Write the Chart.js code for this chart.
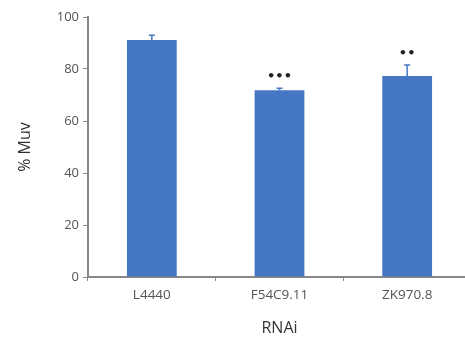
<!DOCTYPE html>
<html>
<head>
<meta charset="utf-8">
<script src="https://cdn.jsdelivr.net/npm/chart.js@4"></script>
<style>
  html, body { margin: 0; padding: 0; background: #fff; overflow: hidden; }
  canvas { display: block; }
</style>
</head>
<body>
<canvas id="myChart" width="471" height="342"></canvas>
<script>
// données
const categories = ['L4440', 'F54C9.11', 'ZK970.8'];
const muvValues = [91.2, 71.8, 77.3];
const muvErrors = [1.8, 0.8, 4.2];
const starLabels = ['', '***', '**'];
const yTicks = [0, 20, 40, 60, 80, 100];

// barres d'erreur + étoiles dessinées via les échelles du graphique
const errorBarPlugin = {
    id: 'errorBars',
    afterDatasetsDraw(chart) {
        const ctx = chart.ctx;
        const meta = chart.getDatasetMeta(0);
        const y = chart.scales.y;
        ctx.save();
        meta.data.forEach((bar, i) => {
            const top = y.getPixelForValue(muvValues[i] + muvErrors[i]);
            const base = y.getPixelForValue(muvValues[i]);
            ctx.strokeStyle = '#4677c5';
            ctx.lineWidth = 1.5;
            ctx.beginPath();
            ctx.moveTo(bar.x, base);
            ctx.lineTo(bar.x, top);
            ctx.moveTo(bar.x - 3, top);
            ctx.lineTo(bar.x + 3, top);
            ctx.stroke();
            if (starLabels[i]) {
                ctx.fillStyle = '#222';
                ctx.font = 'bold 13px "DejaVu Sans"';
                ctx.textAlign = 'center';
                ctx.textBaseline = 'bottom';
                ctx.fillText(starLabels[i].replace(/\*/g, '\u2022'), bar.x, top - 5);
            }
        });
        ctx.restore();
    }
};

const ctx = document.getElementById('myChart').getContext('2d');
const myChart = new Chart(ctx, {
    type: 'bar',
    data: {
        labels: categories,
        datasets: [{
            label: '% Muv',
            data: muvValues,
            backgroundColor: '#4677c5',
            borderWidth: 0,
            categoryPercentage: 1,
            barPercentage: 0.39
        }]
    },
    options: {
        responsive: false,
        animation: false,
        layout: { padding: { top: 17, left: 12, right: 0, bottom: 0 } },
        plugins: {
            legend: { display: false },
            tooltip: { enabled: false }
        },
        scales: {
            x: {
                grid: { drawOnChartArea: false, drawTicks: true, tickLength: 4, color: '#888', offset: true },
                border: { color: '#888', width: 2 },
                ticks: { color: '#555', font: { family: 'Open Sans', size: 13.5 }, padding: 6 },
                title: { display: true, text: 'RNAi', color: '#333', font: { family: 'Open Sans', size: 16 }, padding: { top: 2 } },
                afterFit(scale) { scale.height = 65; }
            },
            y: {
                min: 0,
                max: 100,
                afterBuildTicks(scale) { scale.ticks = yTicks.map(v => ({ value: v })); },
                grid: { drawOnChartArea: false, drawTicks: true, tickLength: 5, color: '#888' },
                border: { color: '#888', width: 2 },
                ticks: { color: '#555', font: { family: 'Open Sans', size: 13 }, padding: 4 },
                title: { display: true, text: '% Muv', color: '#333', font: { family: 'Open Sans', size: 16 } },
                afterFit(scale) { scale.width = 76; }
            }
        }
    },
    plugins: [errorBarPlugin]
});
</script>
</body>
</html>
